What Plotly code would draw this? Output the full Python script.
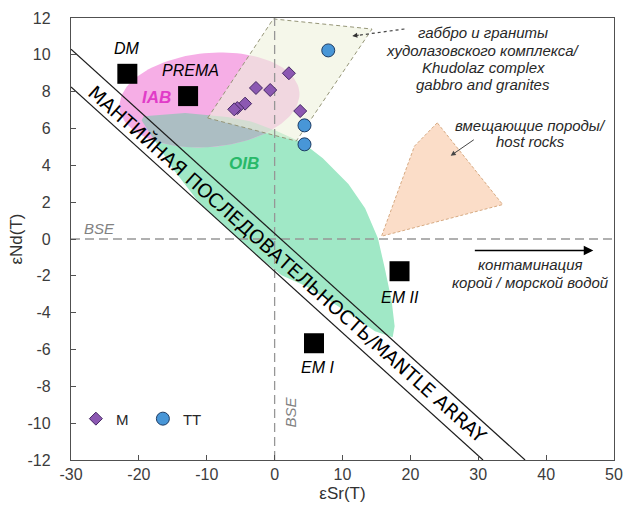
import numpy as np
import plotly.graph_objects as go

# ---------------- data ----------------
m_sr = [2.1, -2.75, -0.65, -4.35, -5.5, -5.95, 3.77]
m_nd = [9.0, 8.2, 8.09, 7.35, 7.11, 7.04, 6.95]

tt_sr = [7.9, 4.4, 4.4]
tt_nd = [10.24, 6.17, 5.14]

res_labels = ["DM", "PREMA", "EM I", "EM II"]
res_sr = [-21.7, -12.75, 5.8, 18.4]
res_nd = [8.97, 7.76, -5.66, -1.75]

oib_sr = [-19.28, -13.19, -6.96, -3.62, 0.29, 4.20, 7.10, 10.87, 13.33, 15.22, 16.23,
          17.25, 17.68, 17.39, 14.78, 11.16, 7.54, 4.64, 1.01, -2.61, -6.96, -11.30,
          -14.93, -17.83, -19.6]
oib_nd = [6.67, 6.84, 6.62, 6.40, 5.86, 5.21, 4.39, 2.98, 1.67, 0.04, -1.59,
          -3.38, -4.74, -5.34, -5.01, -4.09, -3.22, -2.57, -1.97, -0.88, 0.53, 2.05,
          3.79, 5.42, 6.45]

khud_sr = [-9.86, -0.2, 14.35, 3.19]
khud_nd = [6.57, 11.95, 11.40, 5.32]

host_sr = [23.96, 20.6, 15.75, 33.6]
host_nd = [6.31, 5.04, 0.15, 1.87]

iab_center_sr, iab_center_nd = -9.6, 7.55
iab_halfwidth_sr, iab_halfheight_nd = 13.3, 2.55
iab_tilt_deg = 5

array_upper_sr = [-30, 36.9]
array_upper_nd = [10.3, -12]
array_lower_sr = [-30, 30.7]
array_lower_nd = [8.25, -12]

bse_h_sr = [-30, 50]
bse_h_nd = [0, 0]
bse_v_sr = [0, 0]
bse_v_nd = [-12, 12]

x_ticks = [-30, -20, -10, 0, 10, 20, 30, 40, 50]
x_ticktext = ["-30", "-20", "-10", "0", "10", "20", "30", "40", "50"]
y_ticks = [-12, -10, -8, -6, -4, -2, 0, 2, 4, 6, 8, 10, 12]
y_ticktext = ["-12", "-10", "-8", "-6", "-4", "-2", "0", "2", "4", "6", "8", "10", "12"]

# ---------------- layout geometry ----------------
W, H = 633, 515
ML, MR, MT, MB = 71, 10, 17, 55
XR = (-30, 50)
YR = (-12, 12)
px_x = (W - ML - MR) / (XR[1] - XR[0])
px_y = (H - MT - MB) / (YR[1] - YR[0])

FONT = "Liberation Sans, Arial, sans-serif"

# ellipse (IAB) built in screen proportions, then expressed in data units
t = np.linspace(0, 2 * np.pi, 120)
a_px = iab_halfwidth_sr * px_x
b_px = iab_halfheight_nd * px_y
th = np.deg2rad(iab_tilt_deg)
ox = a_px * np.cos(t)
oy = b_px * np.sin(t)
rx = ox * np.cos(th) - oy * np.sin(th)
ry = ox * np.sin(th) + oy * np.cos(th)
iab_sr = iab_center_sr + rx / px_x
iab_nd = iab_center_nd + ry / px_y


def signed_area(poly):
    s = 0.0
    for i in range(len(poly)):
        x1, y1 = poly[i]
        x2, y2 = poly[(i + 1) % len(poly)]
        s += x1 * y2 - x2 * y1
    return s / 2


def clip(subject, clipper):
    if signed_area(clipper) < 0:
        clipper = clipper[::-1]

    def inside(p, a, b):
        return (b[0] - a[0]) * (p[1] - a[1]) - (b[1] - a[1]) * (p[0] - a[0]) >= 0

    def inter(p, q, a, b):
        x1, y1 = p; x2, y2 = q; x3, y3 = a; x4, y4 = b
        den = (x1 - x2) * (y3 - y4) - (y1 - y2) * (x3 - x4)
        tt = ((x1 - x3) * (y3 - y4) - (y1 - y3) * (x3 - x4)) / den
        return (x1 + tt * (x2 - x1), y1 + tt * (y2 - y1))

    out = list(subject)
    n = len(clipper)
    for i in range(n):
        a = clipper[i]
        b = clipper[(i + 1) % n]
        inp = out
        out = []
        if not inp:
            break
        s = inp[-1]
        for e in inp:
            if inside(e, a, b):
                if not inside(s, a, b):
                    out.append(inter(s, e, a, b))
                out.append(e)
            elif inside(s, a, b):
                out.append(inter(s, e, a, b))
            s = e
    return out


overlap = clip(list(zip(oib_sr, oib_nd)), list(zip(iab_sr, iab_nd)))
ov_sr = [p[0] for p in overlap]
ov_nd = [p[1] for p in overlap]

fig = go.Figure()


def area(xs, ys, fill, line=None, dash=None, width=0):
    fig.add_trace(go.Scatter(
        x=list(xs) + [xs[0]], y=list(ys) + [ys[0]], mode="lines", fill="toself",
        fillcolor=fill, line=dict(color=line or "rgba(0,0,0,0)", width=width, dash=dash),
        hoverinfo="skip", showlegend=False))


area(oib_sr, oib_nd, "rgb(160,232,198)")
area(list(iab_sr), list(iab_nd), "rgb(246,174,230)")
if ov_sr:
    area(ov_sr, ov_nd, "rgb(172,190,195)")
area(host_sr, host_nd, "rgba(250,215,190,0.85)", line="rgb(215,170,130)", dash="3px,2px", width=1)
area(khud_sr, khud_nd, "rgba(238,242,220,0.6)", line="rgb(150,150,120)", dash="4px,3px", width=1)

for xs, ys in [(bse_h_sr, bse_h_nd), (bse_v_sr, bse_v_nd)]:
    fig.add_trace(go.Scatter(x=xs, y=ys, mode="lines",
                             line=dict(color="rgb(150,150,150)", width=1.3, dash="9px,5px"),
                             hoverinfo="skip", showlegend=False))
for xs, ys in [(array_upper_sr, array_upper_nd), (array_lower_sr, array_lower_nd)]:
    fig.add_trace(go.Scatter(x=xs, y=ys, mode="lines",
                             line=dict(color="rgb(30,30,30)", width=1.2),
                             hoverinfo="skip", showlegend=False))

fig.add_trace(go.Scatter(
    x=res_sr, y=res_nd, mode="markers",
    marker=dict(symbol="square", size=20, color="black"),
    hoverinfo="skip", showlegend=False))

fig.add_trace(go.Scatter(
    x=m_sr, y=m_nd, mode="markers", name="M",
    marker=dict(symbol="diamond", size=10, color="rgb(140,88,178)",
                line=dict(color="rgb(70,40,100)", width=1))))
fig.add_trace(go.Scatter(
    x=tt_sr, y=tt_nd, mode="markers", name="TT",
    marker=dict(symbol="circle", size=13, color="rgb(72,150,215)",
                line=dict(color="rgb(30,60,100)", width=1))))


def to_sr(px):
    return XR[0] + (px - ML) / px_x


def to_nd(py):
    return YR[1] - (py - MT) / px_y


ann = []
# reservoir labels next to their squares
label_shift = [(0, 25), (2, 26), (4, -24), (0, -26)]
for lab, xs, ys, (dx, dy) in zip(res_labels, res_sr, res_nd, label_shift):
    ann.append(dict(x=xs, y=ys, text="<i>" + lab + "</i>", showarrow=False, xshift=dx, yshift=dy,
                    font=dict(family=FONT, size=16, color="black")))

slope_angle = np.degrees(np.arctan((1 / 3) * px_y / px_x))
ann.append(dict(x=1.9, y=-1.35, text="МАНТИЙНАЯ ПОСЛЕДОВАТЕЛЬНОСТЬ/MANTLE ARRAY",
                textangle=slope_angle, showarrow=False,
                font=dict(family="DejaVu Sans, sans-serif", size=19, color="black")))
ann.append(dict(x=to_sr(158), y=to_nd(97), text="<b><i>IAB</i></b>", showarrow=False,
                font=dict(family=FONT, size=17, color="rgb(225,60,200)")))
ann.append(dict(x=to_sr(247), y=to_nd(163), text="<b><i>OIB</i></b>", showarrow=False,
                font=dict(family=FONT, size=17, color="rgb(40,185,105)")))
ann.append(dict(x=to_sr(100), y=to_nd(228), text="<i>BSE</i>", showarrow=False,
                font=dict(family=FONT, size=15, color="rgb(130,130,130)")))
ann.append(dict(x=to_sr(294), y=to_nd(412), text="<i>BSE</i>", showarrow=False, textangle=-90,
                font=dict(family=FONT, size=15, color="rgb(130,130,130)")))

khud_lines = ["габбро и граниты", "худолазовского комплекса/", "Khudolaz complex", "gabbro and granites"]
for i, s in enumerate(khud_lines):
    ann.append(dict(x=to_sr(490), y=to_nd(32 + 17.3 * i), text="<i>" + s + "</i>", showarrow=False,
                    font=dict(family=FONT, size=15, color="rgb(40,40,40)")))
host_lines = ["вмещающие породы/", "host rocks"]
for i, s in enumerate(host_lines):
    ann.append(dict(x=to_sr(538), y=to_nd(125 + 16 * i), text="<i>" + s + "</i>", showarrow=False,
                    font=dict(family=FONT, size=15, color="rgb(40,40,40)")))
cont_lines = ["контаминация", "корой / морской водой"]
for i, s in enumerate(cont_lines):
    ann.append(dict(x=to_sr(538), y=to_nd(264 + 18 * i), text="<i>" + s + "</i>", showarrow=False,
                    font=dict(family=FONT, size=15, color="rgb(40,40,40)")))

# arrows
ann.append(dict(x=to_sr(602), y=to_nd(250), ax=to_sr(480), ay=to_nd(250), axref="x", ayref="y",
                text="", showarrow=True, arrowhead=2, arrowsize=1.2, arrowwidth=1.6,
                arrowcolor="black"))
ann.append(dict(x=to_sr(457), y=to_nd(155), ax=to_sr(482), ay=to_nd(138), axref="x", ayref="y",
                text="", showarrow=True, arrowhead=2, arrowsize=1, arrowwidth=1,
                arrowcolor="rgb(70,70,70)"))
ann.append(dict(x=to_sr(357), y=to_nd(35), ax=8, ay=-1,
                text="", showarrow=True, arrowhead=2, arrowsize=1, arrowwidth=1,
                arrowcolor="rgb(50,50,50)"))

shapes = [dict(type="line", xref="x", yref="y", x0=to_sr(410), y0=to_nd(28),
               x1=to_sr(362), y1=to_nd(34.5),
               line=dict(color="rgb(70,70,70)", width=1.2, dash="dot"))]

axis_common = dict(showgrid=False, zeroline=False, ticks="inside", ticklen=5,
                   tickcolor="rgb(80,80,80)", linecolor="rgb(80,80,80)", linewidth=1.3,
                   mirror=True, showline=True,
                   tickfont=dict(family=FONT, size=16, color="rgb(60,60,60)"))

fig.update_layout(
    width=W, height=H,
    margin=dict(l=ML, r=MR, t=MT, b=MB),
    paper_bgcolor="white", plot_bgcolor="white",
    xaxis=dict(range=list(XR), tickvals=x_ticks, ticktext=x_ticktext,
               title=dict(text="εSr(T)", font=dict(family=FONT, size=17, color="rgb(50,50,50)"),
                          standoff=4),
               ticklabelstandoff=0, **axis_common),
    yaxis=dict(range=list(YR), tickvals=y_ticks, ticktext=y_ticktext,
               title=dict(text="εNd(T)", font=dict(family=FONT, size=17, color="rgb(50,50,50)"),
                          standoff=0),
               ticklabelstandoff=16, **axis_common),
    legend=dict(orientation="h", x=0.009, y=0.093, xanchor="left", yanchor="middle",
                bgcolor="rgba(0,0,0,0)", font=dict(family=FONT, size=15, color="rgb(40,40,40)"),
                entrywidth=22, entrywidthmode="pixels"),
    annotations=ann,
    shapes=shapes,
    showlegend=True,
)

fig.write_html("out.html", config={"displayModeBar": False},
               post_script="document.body.style.margin='0';")
